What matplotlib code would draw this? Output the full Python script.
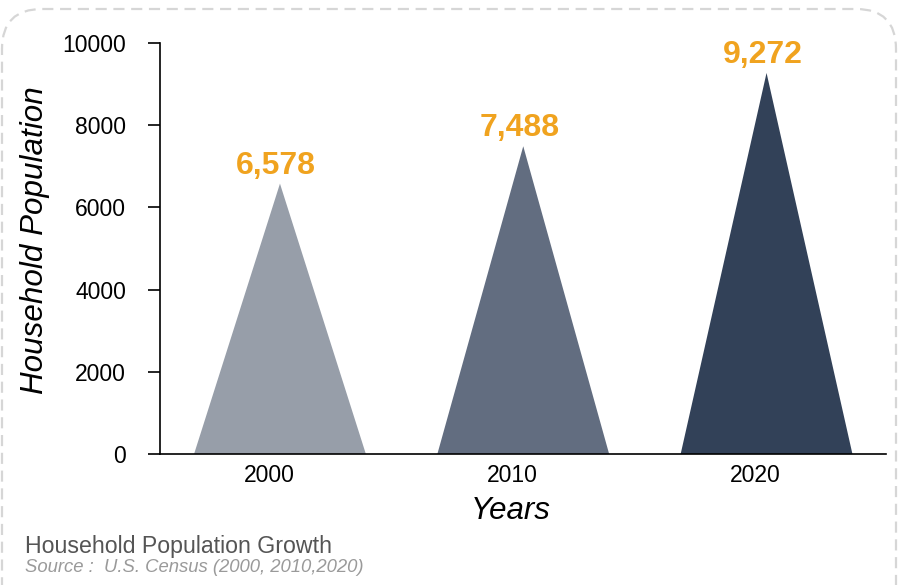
import matplotlib.pyplot as plt
from matplotlib.patches import FancyBboxPatch
from matplotlib.transforms import IdentityTransform

years = ['2000', '2010', '2020']
population = [6578, 7488, 9272]
colors = ['#979ea9', '#626d80', '#324158']
label_color = '#f0a31f'

plt.rcParams['font.family'] = ['Liberation Sans', 'DejaVu Sans']

fig = plt.figure(figsize=(8.99, 5.85), dpi=100)
ax = fig.add_axes([0.178, 0.224, 0.807, 0.7025])

half_w = 0.353
shift = 0.045
for i, (v, c) in enumerate(zip(population, colors)):
    xc = i + shift
    ax.fill([xc - half_w, xc, xc + half_w], [0, v, 0], color=c, lw=0)
    ax.text(xc - 0.015, v + 70, f'{v:,}', ha='center', va='bottom',
            fontsize=23, fontweight='bold', color=label_color)

ax.set_xlim(-0.448, 2.534)
ax.set_ylim(0, 10000)
ax.set_xticks(range(len(years)))
ax.set_xticklabels(years)
ax.set_yticks([0, 2000, 4000, 6000, 8000, 10000])
ax.tick_params(axis='x', length=0, pad=7, labelsize=16.5)
ax.tick_params(axis='y', length=8.5, width=1.2, pad=16, labelsize=16.5)
for lbl in ax.get_yticklabels():
    lbl.set_va('center_baseline')
for s in ['top', 'right']:
    ax.spines[s].set_visible(False)
for s in ['left', 'bottom']:
    ax.spines[s].set_linewidth(1.2)

ax.set_xlabel('Years', fontsize=22.5, style='italic', va='center')
ax.xaxis.set_label_coords(0.484, -0.138)
ax.set_ylabel('Household Population', fontsize=22.6, style='italic',
              va='center', ha='center')
ax.yaxis.set_label_coords(-0.172, 0.521)

fig.text(0.028, 0.066, 'Household Population Growth', fontsize=16.7,
         color='#555555', va='center', fontweight='light')
fig.text(0.028, 0.030, 'Source :  U.S. Census (2000, 2010,2020)', fontsize=13.3,
         color='#9a9a9a', va='center', style='italic')

border = FancyBboxPatch((42, -100), 814, 636, boxstyle='round,pad=40',
                        transform=IdentityTransform(), fill=False,
                        edgecolor='#d6d6d6', lw=1.6, linestyle=(0, (5, 3)))
fig.patches.append(border)

fig.savefig('out.png', dpi=100)
